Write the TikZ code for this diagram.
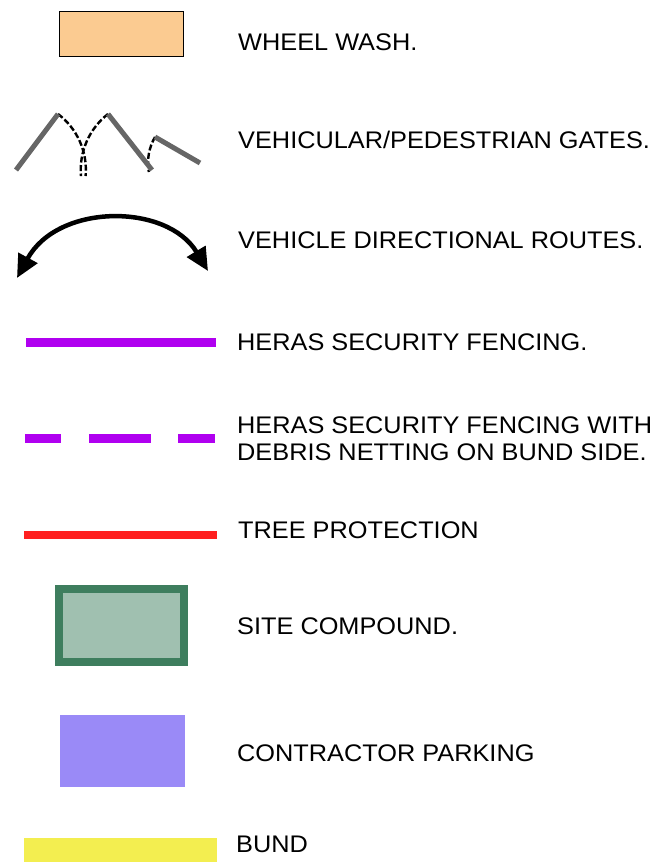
\documentclass[tikz,border=0pt]{standalone}
\usepackage{fontspec}
\setmainfont[FakeStretch=1.055]{Liberation Sans}
\usetikzlibrary{arrows.meta}
\definecolor{washfill}{RGB}{251,203,145}
\definecolor{gategrey}{RGB}{102,102,102}
\definecolor{herasviolet}{RGB}{176,0,240}
\definecolor{treered}{RGB}{255,32,32}
\definecolor{compoundedge}{RGB}{62,126,94}
\definecolor{compoundfill}{RGB}{160,192,176}
\definecolor{parkfill}{RGB}{154,138,247}
\definecolor{bundfill}{RGB}{243,238,80}
\tikzset{
  label/.style={anchor=base west, inner sep=0pt, font=\fontsize{24}{27}\selectfont, align=left},
  gateleaf/.style={draw=gategrey, line width=5pt},
  swing/.style={draw=black, line width=2.4pt, dash pattern=on 6pt off 2.5pt},
  heras/.style={draw=herasviolet, line width=9pt},
}
\begin{document}
\begin{tikzpicture}[x=1pt,y=-1pt]
\useasboundingbox (0,0) rectangle (656,868);
% wheel wash
\node[draw=black, line width=1pt, fill=washfill, minimum width=124pt, minimum height=45pt, inner sep=0pt] (wash) at (121,33.5) {};
\node[label] (t1) at (238,50) {WHEEL WASH.};
% gates
\coordinate (h1) at (16,170);
\coordinate (h2) at (152,170);
\coordinate (h3) at (200,163);
\coordinate (e1) at (58,114);
\coordinate (e2) at (108,114);
\coordinate (e3) at (155,137);
\draw[swing] (e1) arc[start angle=-53, end angle=5, radius=70];
\draw[swing] (e2) arc[start angle=232, end angle=175, radius=71];
\draw[swing] (e3) arc[start angle=210, end angle=170, radius=52];
\draw[gateleaf] (h1) -- (e1);
\draw[gateleaf] (h2) -- (e2);
\draw[gateleaf] (h3) -- (e3);
\node[label] (t2) at (238,148) {VEHICULAR/PEDESTRIAN GATES.};
% directional routes
\coordinate (rl) at (17,278);
\coordinate (rr) at (208,271);
\draw[line width=4.5pt, {Triangle[length=23pt,width=21pt]}-{Triangle[length=23pt,width=21pt]}] (rl) .. controls (58,203) and (167,203) .. (rr);
\node[label] (t3) at (238,248) {VEHICLE DIRECTIONAL ROUTES.};
% heras fencing
\coordinate (hs1) at (26,342.5);
\coordinate (hs2) at (216,342.5);
\draw[heras] (hs1) -- (hs2);
\node[label] (t4) at (237,350) {HERAS SECURITY FENCING.};
% heras with netting
\coordinate (d1a) at (25,438.5);
\coordinate (d1b) at (61,438.5);
\coordinate (d2a) at (89,438.5);
\coordinate (d2b) at (151,438.5);
\coordinate (d3a) at (178,438.5);
\coordinate (d3b) at (215,438.5);
\draw[heras] (d1a) -- (d1b);
\draw[heras] (d2a) -- (d2b);
\draw[heras] (d3a) -- (d3b);
\node[label] (t5) at (237,433) {HERAS SECURITY FENCING WITH};
\node[label] (t5b) at (237,460) {DEBRIS NETTING ON BUND SIDE.};
% tree protection
\coordinate (tp1) at (24,535);
\coordinate (tp2) at (217,535);
\draw[draw=treered, line width=8pt] (tp1) -- (tp2);
\node[label] (t6) at (238,538) {TREE PROTECTION};
% site compound
\node[draw=compoundedge, line width=8pt, fill=compoundfill, minimum width=125pt, minimum height=73pt, inner sep=0pt] (comp) at (121.5,625.5) {};
\node[label] (t7) at (237,634) {SITE COMPOUND.};
% contractor parking
\node[fill=parkfill, minimum width=125pt, minimum height=72pt, inner sep=0pt] (park) at (122.5,751) {};
\node[label] (t8) at (237,761) {CONTRACTOR PARKING};
% bund
\node[fill=bundfill, minimum width=193pt, minimum height=24pt, inner sep=0pt] (bund) at (120.5,850) {};
\node[label] (t9) at (236,852) {BUND};
\end{tikzpicture}
\end{document}
